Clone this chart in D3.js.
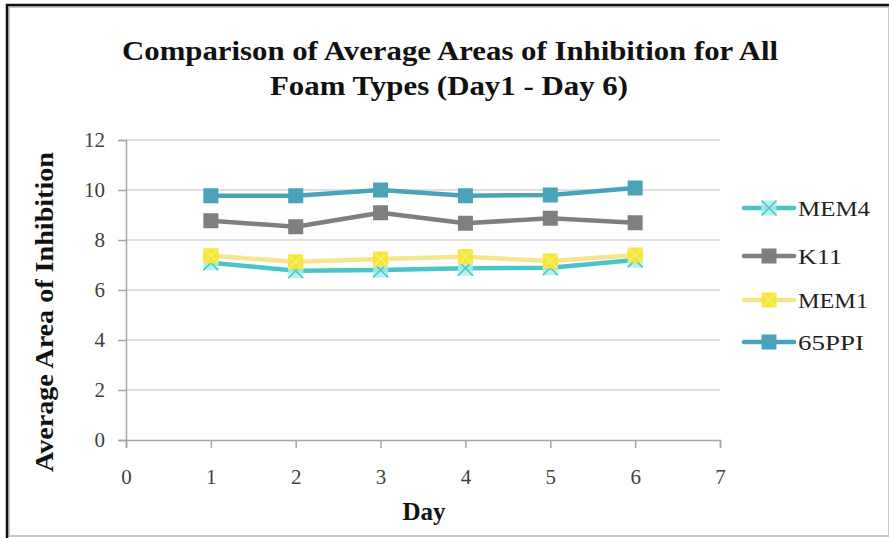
<!DOCTYPE html>
<html>
<head>
<meta charset="utf-8">
<script src="https://cdn.jsdelivr.net/npm/d3@7"></script>
<style>
  body { margin: 0; background: #fff; }
  svg { display: block; }
</style>
</head>
<body>
<svg id="chart" width="889" height="538"></svg>
<script>
// Data
const days = [1, 2, 3, 4, 5, 6];
const seriesNames = ["MEM4", "K11", "MEM1", "65PPI"];
const mem4 = [7.09, 6.77, 6.80, 6.87, 6.89, 7.20];
const k11 = [8.77, 8.53, 9.09, 8.67, 8.87, 8.69];
const mem1 = [7.37, 7.13, 7.24, 7.33, 7.16, 7.40];
const ppi65 = [9.77, 9.77, 10.0, 9.77, 9.80, 10.08];
const xTicks = [0, 1, 2, 3, 4, 5, 6, 7];
const yTicks = [0, 2, 4, 6, 8, 10, 12];

const svg = d3.select("#chart");
const serif = "'Liberation Serif', 'DejaVu Serif', serif";

// frame
svg.append("rect").attr("x", 9).attr("y", 7).attr("width", 880).attr("height", 529)
  .attr("fill", "none").attr("stroke", "#c8c8c8").attr("stroke-width", 2);
svg.append("line").attr("x1", 7).attr("x2", 7).attr("y1", 4).attr("y2", 538)
  .attr("stroke", "#111").attr("stroke-width", 2.5);
svg.append("line").attr("x1", 6).attr("x2", 889).attr("y1", 5).attr("y2", 5)
  .attr("stroke", "#111").attr("stroke-width", 2.5);

const x = d3.scaleLinear().domain([0, 7]).range([126, 720]);
const y = d3.scaleLinear().domain([0, 12]).range([440, 140]);

// gridlines
svg.append("g").selectAll("line").data(yTicks.filter(d => d > 0)).join("line")
  .attr("x1", x(0)).attr("x2", x(7))
  .attr("y1", d => y(d)).attr("y2", d => y(d))
  .attr("stroke", "#bfbfbf").attr("stroke-width", 1.2);

// y axis
const yAxis = svg.append("g").attr("transform", `translate(${x(0)},0)`)
  .call(d3.axisLeft(y).tickValues(yTicks).tickFormat(d3.format("d")).tickSize(8).tickPadding(13));
// x axis
const xAxis = svg.append("g").attr("transform", `translate(0,${y(0)})`)
  .call(d3.axisBottom(x).tickValues(xTicks).tickFormat(d3.format("d")).tickSize(8).tickPadding(21));
[xAxis, yAxis].forEach(g => {
  g.select(".domain").attr("stroke", "#a6a6a6").attr("stroke-width", 1.5);
  g.selectAll(".tick line").attr("stroke", "#a6a6a6").attr("stroke-width", 1.5);
  g.selectAll(".tick text").attr("fill", "#404040")
    .style("font-family", serif).style("font-size", "21px");
});

// titles
const title = svg.append("text").attr("text-anchor", "middle")
  .style("font-family", serif).style("font-weight", "bold").style("font-size", "28px")
  .attr("fill", "#111");
title.append("tspan").attr("x", 450).attr("y", 60)
  .attr("textLength", 656).attr("lengthAdjust", "spacingAndGlyphs")
  .text("Comparison of Average Areas of Inhibition for All");
title.append("tspan").attr("x", 449).attr("y", 95)
  .attr("textLength", 358).attr("lengthAdjust", "spacingAndGlyphs")
  .text("Foam Types (Day1 - Day 6)");

svg.append("text").attr("x", 424).attr("y", 520).attr("text-anchor", "middle")
  .style("font-family", serif).style("font-weight", "bold").style("font-size", "25px")
  .attr("fill", "#111").text("Day");
svg.append("text").attr("transform", "translate(53,312) rotate(-90)").attr("text-anchor", "middle")
  .attr("textLength", 320).attr("lengthAdjust", "spacingAndGlyphs")
  .style("font-family", serif).style("font-weight", "bold").style("font-size", "25px")
  .attr("fill", "#111").text("Average Area of Inhibition");

const series = [
  { name: "MEM4", values: mem4, line: "#4bc4c4", fill: "#a9eded", mark: "x", w: 72 },
  { name: "K11", values: k11, line: "#7f7f7f", fill: "#7f7f7f", mark: "square", w: 44 },
  { name: "MEM1", values: mem1, line: "#f7e58e", fill: "#f5e834", mark: "xsq", w: 70 },
  { name: "65PPI", values: ppi65, line: "#4aa3b9", fill: "#4aa3b9", mark: "square", w: 66 }
];

function marker(g, s, cx, cy) {
  const h = 7.5;
  if (s.mark === "x") {
    g.append("rect").attr("x", cx - h).attr("y", cy - h).attr("width", 2 * h).attr("height", 2 * h)
      .attr("fill", s.fill).attr("opacity", 0.85);
    g.append("path").attr("d", `M${cx - h},${cy - h}L${cx + h},${cy + h}M${cx + h},${cy - h}L${cx - h},${cy + h}`)
      .attr("stroke", s.line).attr("stroke-width", 1.5);
  } else {
    g.append("rect").attr("x", cx - h).attr("y", cy - h).attr("width", 2 * h).attr("height", 2 * h)
      .attr("fill", s.fill);
    if (s.mark === "xsq") {
      g.append("path").attr("d", `M${cx - h},${cy - h}L${cx + h},${cy + h}M${cx + h},${cy - h}L${cx - h},${cy + h}`)
        .attr("stroke", "#f7eb8a").attr("stroke-width", 1.2);
    }
  }
}

const line = d3.line().x((d, i) => x(days[i])).y(d => y(d));

series.forEach(s => {
  const g = svg.append("g");
  g.append("path").datum(s.values).attr("d", line)
    .attr("fill", "none").attr("stroke", s.line).attr("stroke-width", 4.5)
    .attr("stroke-linejoin", "round");
  s.values.forEach((v, i) => marker(g, s, x(days[i]), y(v)));
});

// legend
const legY = [208, 256, 300, 342];
series.forEach((s, i) => {
  const g = svg.append("g");
  const ly = legY[i];
  g.append("line").attr("x1", 744).attr("x2", 794).attr("y1", ly).attr("y2", ly)
    .attr("stroke", s.line).attr("stroke-width", 4.5).attr("stroke-linecap", "round");
  marker(g, s, 769, ly);
  g.append("text").attr("x", 798).attr("y", ly + 8)
    .attr("textLength", s.w).attr("lengthAdjust", "spacingAndGlyphs")
    .style("font-family", serif).style("font-size", "22px").attr("fill", "#222")
    .text(s.name);
});
</script>
</body>
</html>
